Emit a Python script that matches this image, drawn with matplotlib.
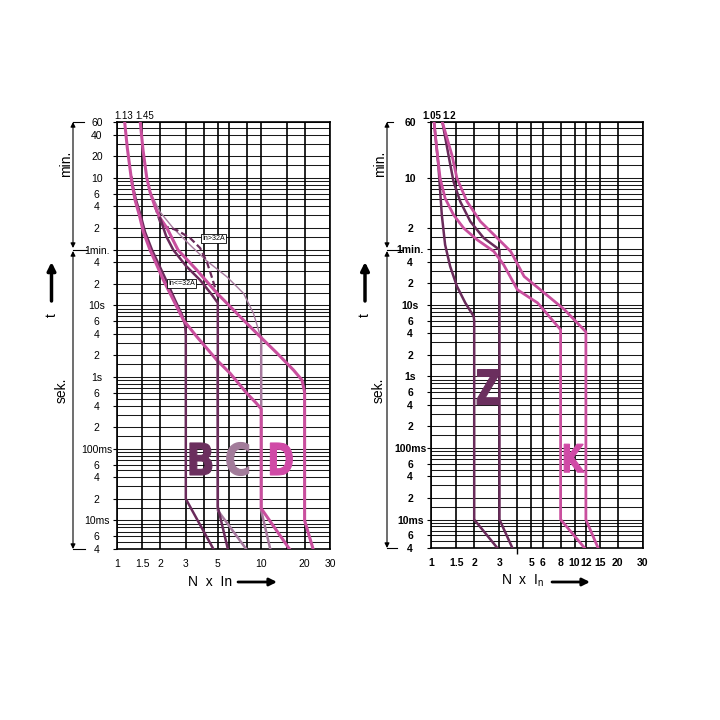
import matplotlib
matplotlib.use('Agg')
import matplotlib.pyplot as plt
import matplotlib.transforms as mtransforms
from matplotlib.ticker import NullLocator, NullFormatter, FixedLocator
from matplotlib.textpath import TextPath
from matplotlib.patches import PathPatch
from matplotlib.font_manager import FontProperties

plt.rcParams['font.family'] = ['Liberation Sans Narrow', 'Liberation Sans', 'DejaVu Sans']

PINK = '#c94f9e'
DARK = '#6a2b5b'
MAUVE = '#a67a9e'

# ---- grid / ticks (x = N x In, t = seconds) ----
grid_x_left = [1, 1.5, 2, 3, 4, 5, 6, 8, 10, 15, 20, 30]
grid_x_right = [1, 1.5, 2, 3, 4, 5, 6, 8, 10, 12, 15, 20, 30]
grid_t = [0.004, 0.005, 0.006, 0.007, 0.008, 0.009,
          0.01, 0.015, 0.02, 0.03, 0.04, 0.05, 0.06, 0.07, 0.08, 0.09,
          0.1, 0.15, 0.2, 0.3, 0.4, 0.5, 0.6, 0.7, 0.8, 0.9,
          1, 1.5, 2, 3, 4, 5, 6, 7, 8, 9,
          10, 15, 20, 30, 40, 50,
          60, 90, 120, 180, 240, 300, 360, 420, 480, 540,
          600, 900, 1200, 1800, 2400, 3000, 3600]

xtick_left = [1, 1.5, 2, 3, 5, 10, 20, 30]
xtick_right = [1, 1.5, 2, 3, 5, 6, 8, 10, 12, 15, 20, 30]

ytick_left = [3600, 2400, 1200, 600, 360, 240, 120, 60, 40, 20, 10, 6, 4, 2,
              1, 0.6, 0.4, 0.2, 0.1, 0.06, 0.04, 0.02, 0.01, 0.006, 0.004]
ylab_left = ['60', '40', '20', '10', '6', '4', '2', '1min.', '4', '2', '10s', '6', '4', '2',
             '1s', '6', '4', '2', '100ms', '6', '4', '2', '10ms', '6', '4']
ytick_right = [3600, 600, 120, 60, 40, 20, 10, 6, 4, 2,
               1, 0.6, 0.4, 0.2, 0.1, 0.06, 0.04, 0.02, 0.01, 0.006, 0.004]
ylab_right = ['60', '10', '2', '1min.', '4', '2', '10s', '6', '4', '2',
              '1s', '6', '4', '2', '100ms', '6', '4', '2', '10ms', '6', '4']

# ---- left panel curves: B, C, D ----
d_lo_x = [1.13, 1.179, 1.265, 1.334, 1.428, 1.523, 1.695, 1.887, 2.097, 2.46, 2.887,
          3.577, 4.925, 6.09, 7.955, 9.23, 10, 10, 15.7]
d_lo_t = [3600, 1562, 529, 294, 181.6, 106, 59, 36.5, 22.5, 11.85, 6.23,
          3.65, 1.725, 1.125, 0.592, 0.434, 0.36, 0.0147, 0.004]

d_hi_x = [1.45, 1.515, 1.608, 1.695, 1.836, 1.989, 2.214, 2.652, 3.577, 4.925, 7.148,
          9.84, 12.85, 16.76, 19.17, 20, 20, 22.9]
d_hi_t = [3600, 1465, 602, 380, 237, 165, 120.8, 59, 31, 14.84, 6.93,
          3.65, 2.16, 1.25, 0.908, 0.617, 0.01, 0.004]

b_lo_x = [1.265, 1.281, 1.355, 1.457, 1.565, 1.75, 1.957, 2.19, 2.528, 2.828, 2.967, 3.0, 3.0, 4.66]
b_lo_t = [600, 476, 294, 181.6, 105.2, 59, 36.5, 22.5, 11.85, 7.32, 5.31, 3.85, 0.02, 0.004]

b_hi_x = [1.989, 2.19, 2.46, 3.014, 3.77, 4.57, 5.0, 5.0, 5.87]
b_hi_t = [165, 92.5, 59, 35.3, 22.5, 13.9, 10.8, 0.0155, 0.004]

b_hi32_x = [1.836, 1.989, 2.214, 2.598, 3.213, 3.77, 4.2, 4.57, 5.0]
b_hi32_t = [237, 145, 123.6, 112, 86.8, 63, 40.2, 24, 13.05]

c_hi32_x = [1.615, 1.695, 1.989, 2.46, 3.213, 4.2, 5.78, 7.54, 8.84, 9.58, 10]
c_hi32_t = [559, 384, 200, 118.5, 69.3, 41.5, 25, 14.7, 7.73, 4.52, 3.5]

c_hi_x = [10, 10, 11.55]
c_hi_t = [3.6, 0.0138, 0.004]
c_lo_x = [4.925, 5, 5, 7.87]
c_lo_t = [1.725, 1.6, 0.0138, 0.004]

# ---- right panel curves: Z, K ----
z_lo_x = [1.05, 1.125, 1.189, 1.254, 1.36, 1.516, 1.734, 1.983, 2.0, 2.0, 2.9]
z_lo_t = [3600, 905, 181.6, 69.3, 34.5, 18.2, 10.66, 6.93, 6.0, 0.01, 0.004]
z_hi_x = [1.2, 1.323, 1.435, 1.599, 1.879, 2.331, 3.0, 3.0, 3.69]
z_hi_t = [3600, 1247, 529, 278, 146.5, 86, 59, 0.01, 0.004]

k_lo_x = [1.05, 1.096, 1.157, 1.254, 1.435, 1.687, 2.095, 2.741, 3.206, 4.0, 5.53, 8.0, 8.0, 11.76]
k_lo_t = [3600, 1547, 590, 310, 181.6, 118.5, 81.4, 55.9, 36.5, 16.3, 10.66, 4.5, 0.01, 0.004]
k_hi_x = [1.2, 1.398, 1.516, 1.782, 2.21, 2.895, 3.591, 4.454, 6.155, 8.506, 12.0, 12.0, 14.6]
k_hi_t = [3600, 1247, 590, 278, 146.5, 86, 55.9, 25, 14.7, 8.6, 4.2, 0.01, 0.004]


def panel(ax, grid_x, xt, yt, ylab, weight, ypad):
    ax.set_xscale('log')
    ax.set_yscale('log')
    ax.set_xlim(1, 30)
    ax.set_ylim(0.004, 3600)
    for t in grid_t:
        ax.axhline(t, color='black', lw=0.75, alpha=0.9, zorder=1)
    for x in grid_x:
        ax.axvline(x, color='black', lw=1.2, zorder=1)
    ax.set_xticks(xt)
    ax.set_xticklabels([f'{v:g}' for v in xt], fontweight=weight)
    ax.set_yticks(yt)
    ax.set_yticklabels(ylab, fontweight=weight)
    for a in (ax.xaxis, ax.yaxis):
        a.set_minor_locator(NullLocator())
        a.set_minor_formatter(NullFormatter())
    ax.tick_params(axis='x', length=0, pad=7, labelsize=7.5)
    ax.tick_params(axis='y', length=3, width=0.8, pad=ypad, labelsize=7.5)
    for lbl in ax.get_yticklabels():
        lbl.set_horizontalalignment('center')
    for s in ax.spines.values():
        s.set_linewidth(1.2)


def big_letter(ax, x, t, ch, color, w, h):
    # heavy, condensed letter: glyph outline scaled to w x h pixels
    tp = TextPath((0, 0), ch, size=1, prop=FontProperties(family='DejaVu Sans', weight='bold'))
    ext = tp.get_extents()
    tr = (mtransforms.Affine2D()
          .translate(-(ext.x0 + ext.x1) / 2, -(ext.y0 + ext.y1) / 2)
          .scale(w / ext.width, h / ext.height)
          + mtransforms.ScaledTranslation(x, t, ax.transData))
    ax.add_patch(PathPatch(tp, transform=tr, fc=color, ec=color, lw=0.8, zorder=6))


fig = plt.figure(figsize=(7.2, 7.2), dpi=100)
deco = fig.add_axes([0, 0, 1, 1])
deco.set_xlim(0, 720)
deco.set_ylim(720, 0)
deco.axis('off')

axL = fig.add_axes([117/720, 1-549/720, 213/720, 427/720])
axR = fig.add_axes([431/720, 1-548/720, 212/720, 426/720])
panel(axL, grid_x_left, xtick_left, ytick_left, ylab_left, 'normal', 11.5)
panel(axR, grid_x_right, xtick_right, ytick_right, ylab_right, 'bold', 12)
axR.xaxis.set_minor_locator(FixedLocator([4]))
axR.tick_params(axis='x', which='minor', length=4, width=1.0)

# left curves
axL.plot(c_hi32_x, c_hi32_t, color=MAUVE, lw=1.0, zorder=3)
axL.plot(c_lo_x, c_lo_t, color=MAUVE, lw=1.8, zorder=3)
axL.plot(c_hi_x, c_hi_t, color=MAUVE, lw=1.8, zorder=3)
axL.plot(b_hi32_x, b_hi32_t, color=DARK, lw=1.6, ls=(0, (3, 1.5)), zorder=3)
axL.plot(b_lo_x, b_lo_t, color=DARK, lw=1.8, zorder=3)
axL.plot(d_lo_x, d_lo_t, color=PINK, lw=2.2, zorder=4)
axL.plot(d_hi_x, d_hi_t, color=PINK, lw=2.2, zorder=4)
axL.plot(b_hi_x, b_hi_t, color=DARK, lw=1.8, zorder=5)

# right curves
axR.plot(z_lo_x, z_lo_t, color=DARK, lw=1.8, zorder=3)
axR.plot(z_hi_x, z_hi_t, color=DARK, lw=1.8, zorder=3)
axR.plot(k_lo_x, k_lo_t, color=PINK, lw=2.0, zorder=4)
axR.plot(k_hi_x, k_hi_t, color=PINK, lw=2.0, zorder=4)

# curve letters
big_letter(axL, 3.82, 0.072, 'B', '#6b2f5e', 22, 32)
big_letter(axL, 6.87, 0.072, 'C', '#a27c9a', 22, 33)
big_letter(axL, 13.8, 0.072, 'D', '#d04aa6', 22, 32)
big_letter(axR, 2.5, 0.71, 'Z', '#6b2f5e', 22, 35)
big_letter(axR, 9.95, 0.072, 'K', '#d04aa6', 20, 28)

box = dict(boxstyle='square,pad=0.15', fc='white', ec='black', lw=0.6)
axL.text(4.66, 86, 'In>32A', fontsize=5, ha='center', va='center', bbox=box, zorder=7)
axL.text(2.81, 20.3, 'In<=32A', fontsize=5, ha='center', va='center', bbox=box, zorder=7)

# multiples marked above the plots
for ax, vals, offs, w in [(axL, [1.13, 1.45], [-1, 4], 'normal'),
                          (axR, [1.05, 1.2], [-2, 7], 'bold')]:
    tr = mtransforms.blended_transform_factory(ax.transData, ax.transAxes)
    for v, o in zip(vals, offs):
        ax.annotate(f'{v:g}', xy=(v, 1), xycoords=tr, xytext=(o, 1),
                    textcoords='offset pixels', ha='center', va='bottom',
                    fontsize=7, fontweight=w, annotation_clip=False)

# time brackets, t arrow, x labels
arr = dict(arrowstyle='<|-|>', color='black', lw=0.8, mutation_scale=7, shrinkA=0, shrinkB=0)
for bx, top, bot, tl, ml, bl, mx, sx, tx in [(73, 122, 549, 84, 87, 85, 66.5, 62, 51.5),
                                             (387, 122, 548, 393, 402, 397, 380, 379, 365)]:
    deco.annotate('', xy=(bx, top), xytext=(bx, 248), arrowprops=arr)
    deco.annotate('', xy=(bx, bot), xytext=(bx, 251), arrowprops=arr)
    deco.plot([bx, tl], [top, top], color='black', lw=0.8)
    deco.plot([bx, ml], [249.5, 249.5], color='black', lw=0.8)
    deco.plot([bx, bl], [bot, bot], color='black', lw=0.8)
    deco.text(mx, 164, 'min.', rotation=90, ha='center', va='center', fontsize=10)
    deco.text(sx, 390, 'sek.', rotation=90, ha='center', va='center', fontsize=10)
    deco.text(tx, 315, 't', rotation=90, ha='center', va='center', fontsize=10)
    deco.annotate('', xy=(tx, 262), xytext=(tx, 301),
                  arrowprops=dict(arrowstyle='-|>', color='black', lw=2.5,
                                  mutation_scale=12, shrinkA=0, shrinkB=0))

deco.text(210, 581.5, 'N  x  In', ha='center', va='center', fontsize=10)
deco.text(523, 581, r'N  x  I$_\mathregular{n}$', ha='center', va='center', fontsize=10)
for x0, x1 in [(238, 277), (552, 590)]:
    deco.annotate('', xy=(x1, 582), xytext=(x0, 582),
                  arrowprops=dict(arrowstyle='-|>', color='black', lw=2,
                                  mutation_scale=11, shrinkA=0, shrinkB=0))

fig.savefig('out.png', dpi=100, facecolor='white')
